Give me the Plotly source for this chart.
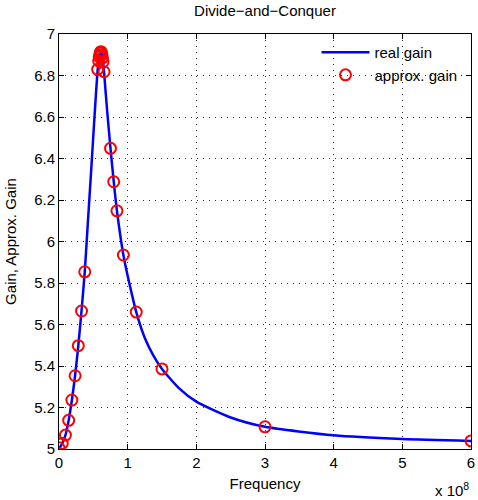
import plotly.graph_objects as go

# Frequencies in units of 1e8 Hz (axis shows "x 10^8")
real_freq = [0, 0.047, 0.094, 0.141, 0.1875, 0.234, 0.281, 0.328, 0.375, 0.42, 0.47,
             0.51, 0.54, 0.56, 0.575, 0.59, 0.60, 0.61, 0.62, 0.63, 0.645, 0.66, 0.70,
             0.75, 0.797, 0.844, 0.9375, 1.03, 1.125, 1.25, 1.375, 1.5, 1.75, 2.0, 2.5,
             3.0, 4.0, 5.0, 6.0]
real_gain = [5.0, 5.027, 5.067, 5.138, 5.236, 5.353, 5.498, 5.665, 5.854, 6.09, 6.35,
             6.565, 6.72, 6.815, 6.865, 6.90, 6.912, 6.916, 6.912, 6.895, 6.86, 6.80, 6.635,
             6.449, 6.288, 6.148, 5.935, 5.79, 5.66, 5.535, 5.45, 5.386, 5.292, 5.228, 5.152,
             5.107, 5.066, 5.048, 5.039]

approx_freq = [0, 0.046875, 0.09375, 0.140625, 0.1875, 0.234375, 0.28125, 0.328125, 0.375,
               0.5625, 0.578, 0.586, 0.594, 0.6016, 0.6094, 0.6172, 0.625, 0.6328, 0.6406,
               0.65625, 0.75, 0.796875, 0.84375, 0.9375, 1.125, 1.5, 3.0, 6.0]
approx_gain = [5.006, 5.027, 5.067, 5.138, 5.236, 5.353, 5.498, 5.665, 5.854,
               6.830, 6.87, 6.89, 6.90, 6.91, 6.915, 6.912, 6.90, 6.885, 6.865,
               6.818, 6.449, 6.288, 6.148, 5.935, 5.66, 5.386, 5.107, 5.039]

x_ticks = [0, 1, 2, 3, 4, 5, 6]
x_tick_labels = ["0", "1", "2", "3", "4", "5", "6"]
y_ticks = [5, 5.2, 5.4, 5.6, 5.8, 6, 6.2, 6.4, 6.6, 6.8, 7]
y_tick_labels = ["5", "5.2", "5.4", "5.6", "5.8", "6", "6.2", "6.4", "6.6", "6.8", "7"]

font = "Liberation Sans, Arial, sans-serif"

fig = go.Figure()
fig.add_trace(go.Scatter(
    x=real_freq, y=real_gain, mode="lines", name="real gain",
    line=dict(color="#0000ff", width=2.5, shape="spline", smoothing=0.6),
))
fig.add_trace(go.Scatter(
    x=approx_freq, y=approx_gain, mode="markers", name="approx. gain",
    marker=dict(symbol="circle-open", size=11, color="#ff0000", line=dict(width=2, color="#ff0000")),
))

axis_common = dict(
    showline=True, linecolor="black", linewidth=1, mirror="ticks",
    ticks="inside", ticklen=5, tickcolor="black",
    showgrid=True, gridcolor="#333333", gridwidth=1, griddash="1px,5px",
    zeroline=False, tickfont=dict(family=font, size=15, color="black"),
)

fig.update_xaxes(range=[0, 6], tickvals=x_ticks, ticktext=x_tick_labels,
                 ticklabeloverflow="allow",
                 title=dict(text="Frequency", font=dict(family=font, size=15, color="black"), standoff=8),
                 **axis_common)
fig.update_yaxes(range=[5, 7], tickvals=y_ticks, ticktext=y_tick_labels,
                 title=dict(text="Gain, Approx. Gain", font=dict(family=font, size=15, color="black"), standoff=13),
                 **axis_common)

fig.update_layout(
    width=478, height=500,
    margin=dict(l=59, r=3, t=34, b=51),
    paper_bgcolor="white", plot_bgcolor="white",
    title=dict(text="Divide\u2212and\u2212Conquer", xref="paper", x=0.5, xanchor="center",
               y=0.99, yanchor="top",
               font=dict(family=font, size=15, color="black")),
    showlegend=True,
    legend=dict(x=0.625, y=0.995, xanchor="left", yanchor="top",
                bgcolor="rgba(0,0,0,0)", borderwidth=0,
                font=dict(family=font, size=15, color="black"), itemwidth=48,
                tracegroupgap=0),
    annotations=[dict(text="x 10<sup>8</sup>", xref="paper", yref="paper", x=1.0, y=-0.07,
                      xanchor="right", yanchor="top", showarrow=False,
                      font=dict(family=font, size=15, color="black"))],
)

fig.write_html("out.html")
